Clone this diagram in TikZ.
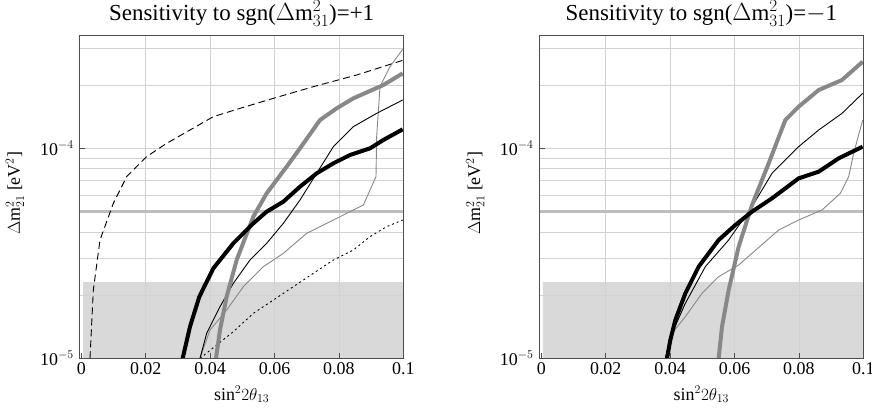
\documentclass[tikz,border=0pt]{standalone}
\usepackage{fontspec}
\setmainfont{Liberation Serif}
\definecolor{gridc}{HTML}{D2D2D2}
\definecolor{bandc}{HTML}{D9D9D9}
\definecolor{curveg}{HTML}{888888}
\tikzset{
 gridl/.style={gridc, line width=0.8bp},
 fivel/.style={gridc!90!black, line width=2.2bp},
 framel/.style={draw=black!70, line width=0.8bp},
 thickblack/.style={black, line width=4bp, line join=round},
 thickgray/.style={curveg, line width=4bp, line join=round},
 thinblack/.style={black, line width=0.9bp, line join=round},
 thingray/.style={curveg, line width=0.9bp, line join=round},
 dashcurve/.style={black, line width=0.9bp, dash pattern=on 7bp off 4bp},
 dotcurve/.style={black, line width=0.9bp, dash pattern=on 2bp off 3bp},
 ticklab/.style={font=\fontsize{18}{18}\selectfont, inner sep=1bp},
 titlelab/.style={font=\fontsize{23}{25}\selectfont, inner sep=0pt},
}
\newcommand\myframe[1]{%
 \fill[bandc] (#1+4,785) rectangle (#1+966,1015);
 \foreach \i in {1,2,3,4} \draw[gridl] (#1+\i*193.2,45) -- (#1+\i*193.2,1015);
 \foreach \yy in {825.3,714.4,635.7,524.8,482.6,446.1,413.8,385,195.3,84.4}
   \draw[gridl] (#1-6,\yy) -- (#1+966,\yy);
 \draw[fivel] (#1-6,574.6) -- (#1+966,574.6);
}
\newcommand\myborder[1]{%
 \draw[framel] (#1-6,45) rectangle (#1+966,1015);
 \foreach \i in {0,1,2,3,4,5} \draw[framel] (#1+\i*193.2,1015) -- (#1+\i*193.2,1000);
 \foreach \yy in {385,1015} \draw[framel] (#1-6,\yy) -- (#1+10,\yy);
}
\begin{document}
\begin{tikzpicture}[x=1bp,y=-1bp]
\useasboundingbox (0,0) rectangle (872,408);
% ---------------- left panel
\begin{scope}[shift={(0,20)}, scale=1/3]
\myframe{244}
\draw[dashcurve] (270,1015) -- (280,810) -- (300,660) -- (340,550) -- (380,470) -- (440,410) -- (500,370) -- (570,330) -- (640,290) -- (720,265) -- (820,235) -- (940,200) -- (1070,165) -- (1208,121);
\draw[dotcurve] (600,1015) -- (650,975) -- (700,935) -- (760,880) -- (820,840) -- (880,800) -- (940,760) -- (1000,720) -- (1060,690) -- (1110,650) -- (1160,620) -- (1208,600);
\draw[thingray] (600,1015) -- (630,930) -- (680,870) -- (730,800) -- (790,740) -- (850,700) -- (920,640) -- (980,610) -- (1040,580) -- (1090,555) -- (1128,470) -- (1130,350) -- (1140,200) -- (1170,140) -- (1208,88);
\draw[thinblack] (600,1015) -- (620,940) -- (660,860) -- (700,790) -- (750,720) -- (800,670) -- (850,610) -- (900,540) -- (950,460) -- (1000,380) -- (1060,320) -- (1130,280) -- (1208,240);
\draw[thickgray] (648,1015) -- (660,930) -- (680,830) -- (710,720) -- (760,590) -- (800,520) -- (860,440) -- (900,385) -- (960,300) -- (1010,265) -- (1060,235) -- (1150,195) -- (1208,160);
\draw[thickblack] (548,1015) -- (570,920) -- (598,830) -- (640,745) -- (700,670) -- (760,610) -- (800,575) -- (850,545) -- (900,500) -- (950,460) -- (1000,430) -- (1050,405) -- (1110,385) -- (1150,360) -- (1208,328);
\myborder{244}
\foreach \v/\t [count=\n] in {0/0,1/0.02,2/0.04,3/0.06,4/0.08,5/0.1}
  \node[ticklab, anchor=north] (lx\n) at (244+\v*193.2,1025) {\t};
\node[ticklab, anchor=east] (ly4) at (225,385) {10$^{-4}$};
\node[ticklab, anchor=east] (ly5) at (225,1015) {10$^{-5}$};
\node[ticklab, rotate=90] (lyl) at (45,520) {$\Delta$m$^2_{21}$ [eV$^2$]};
\node[ticklab, anchor=north] (lxl) at (725,1095) {sin$^2 2\theta_{13}$};
\node[titlelab, anchor=base] (lt) at (725,0) {Sensitivity to sgn($\Delta$m$^2_{31}$)=+1};
\end{scope}
% ---------------- right panel
\begin{scope}[shift={(452,20)}, scale=1/3]
\myframe{268}
\draw[thingray] (640,1015) -- (660,940) -- (700,890) -- (750,820) -- (800,770) -- (860,735) -- (900,700) -- (980,630) -- (1040,600) -- (1110,570) -- (1165,520) -- (1190,470) -- (1205,400) -- (1232,300);
\draw[thinblack] (640,1015) -- (660,940) -- (700,850) -- (760,740) -- (830,660) -- (900,560) -- (960,460) -- (1040,380) -- (1100,330) -- (1170,280) -- (1232,220);
\draw[thickgray] (800,1015) -- (810,920) -- (830,810) -- (860,680) -- (900,555) -- (950,430) -- (1000,300) -- (1040,260) -- (1100,210) -- (1170,180) -- (1232,125);
\draw[thickblack] (645,1015) -- (655,960) -- (670,900) -- (700,820) -- (740,740) -- (800,660) -- (850,615) -- (900,575) -- (960,535) -- (1040,475) -- (1100,455) -- (1160,415) -- (1232,380);
\myborder{268}
\foreach \v/\t [count=\n] in {0/0,1/0.02,2/0.04,3/0.06,4/0.08,5/0.1}
  \node[ticklab, anchor=north] (rx\n) at (268+\v*193.2,1025) {\t};
\node[ticklab, anchor=east] (ry4) at (248,385) {10$^{-4}$};
\node[ticklab, anchor=east] (ry5) at (248,1015) {10$^{-5}$};
\node[ticklab, rotate=90] (ryl) at (70,520) {$\Delta$m$^2_{21}$ [eV$^2$]};
\node[ticklab, anchor=north] (rxl) at (748,1095) {sin$^2 2\theta_{13}$};
\node[titlelab, anchor=base] (rt) at (748,0) {Sensitivity to sgn($\Delta$m$^2_{31}$)=$-$1};
\end{scope}
\end{tikzpicture}
\end{document}
